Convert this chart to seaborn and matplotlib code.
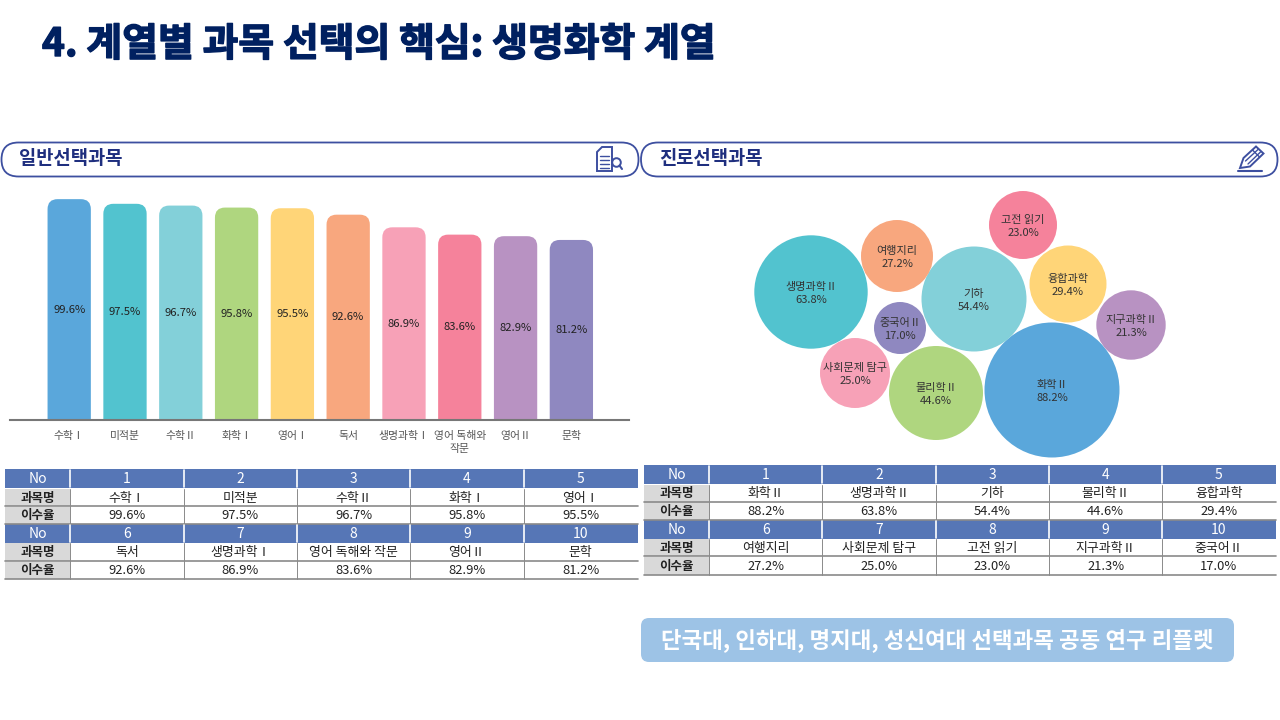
import matplotlib.pyplot as plt
import matplotlib.patheffects as pe
from matplotlib.patches import Circle, FancyBboxPatch, Polygon, Rectangle
import pandas as pd
import seaborn as sns

# Values
general_subjects = ['수학Ⅰ', '미적분', '수학Ⅱ', '화학Ⅰ', '영어Ⅰ', '독서', '생명과학Ⅰ', '영어 독해와 작문', '영어Ⅱ', '문학']
general_ticks = ['수학Ⅰ', '미적분', '수학Ⅱ', '화학Ⅰ', '영어Ⅰ', '독서', '생명과학Ⅰ', '영어 독해와\n작문', '영어Ⅱ', '문학']
general_rates = [99.6, 97.5, 96.7, 95.8, 95.5, 92.6, 86.9, 83.6, 82.9, 81.2]

career_subjects = ['화학Ⅱ', '생명과학Ⅱ', '기하', '물리학Ⅱ', '융합과학', '여행지리', '사회문제 탐구', '고전 읽기', '지구과학Ⅱ', '중국어Ⅱ']
career_rates = [88.2, 63.8, 54.4, 44.6, 29.4, 27.2, 25.0, 23.0, 21.3, 17.0]

# Bubble layout, in pixels of the slide
bubble_x = [1052, 811, 974, 936, 1068, 897, 855, 1023, 1131, 900]
bubble_y = [390, 292, 299, 393, 284, 256, 373, 225, 325, 328]
bubble_r = [67.5, 56.7, 52.5, 47, 38.5, 36, 35, 34, 34.7, 26]

colors = ['#5AA7DB', '#52C3CF', '#83D0D9', '#AFD67F', '#FFD578',
          '#F8A77E', '#F7A1B7', '#F5829B', '#B892C2', '#8F88C0']
navy = '#002060'
pill_color = '#3D4FA0'
header_color = '#5676B6'

sns.set_theme(style='white')
plt.rcParams['font.family'] = ['Noto Sans CJK KR', 'DejaVu Sans']

fig = plt.figure(figsize=(12.8, 7.2), dpi=100)

# Full slide axes in pixels for title, pills, tables and icons
page = fig.add_axes([0, 0, 1, 1])
page.set_xlim(0, 1280)
page.set_ylim(720, 0)
page.axis('off')

page.text(42, 44.5, '4. 계열별 과목 선택의 핵심: 생명화학 계열', fontsize=28, fontweight='bold',
          color=navy, va='center', ha='left',
          path_effects=[pe.withStroke(linewidth=1.0, foreground=navy)])


def draw_pill(x0, x1, title):
    page.add_patch(FancyBboxPatch((x0 + 17, 142.5 + 17), x1 - x0 - 34, 0,
                                  boxstyle='round,pad=17,rounding_size=17',
                                  fc='white', ec=pill_color, lw=1.3))
    page.text(x0 + 18, 159, title, fontsize=13.5, fontweight='bold', color='#1F2F7F',
              va='center', ha='left')


def draw_table(x_edges, y_edges, subjects, rates):
    # y_edges: top and bottom of the six rows
    for block in range(2):
        start = block * 5
        rows = y_edges[block * 3:block * 3 + 3]
        top, bottom = rows[0]
        page.add_patch(Rectangle((x_edges[0], top), x_edges[-1] - x_edges[0], bottom - top,
                                 fc=header_color, ec='none'))
        page.text((x_edges[0] + x_edges[1]) / 2, (top + bottom) / 2 + 0.5, 'No', color='white',
                  fontsize=10, ha='center', va='center')
        for row, label in zip(rows[1:], ['과목명', '이수율']):
            page.add_patch(Rectangle((x_edges[0], row[0]), x_edges[1] - x_edges[0], row[1] - row[0],
                                     fc='#D9D9D9', ec='none'))
            page.text((x_edges[0] + x_edges[1]) / 2, (row[0] + row[1]) / 2 + 0.5, label, color='#222222',
                      fontsize=9, fontweight='bold', ha='center', va='center')
            page.plot([x_edges[0], x_edges[-1]], [row[1], row[1]], color='#8A8A8A', lw=1.2)
        for i in range(5):
            xc = (x_edges[i + 1] + x_edges[i + 2]) / 2
            page.text(xc, (top + bottom) / 2 + 0.5, str(start + i + 1), color='white', fontsize=10,
                      ha='center', va='center')
            page.text(xc, sum(rows[1]) / 2 + 0.5, subjects[start + i], color='#222222', fontsize=9.3,
                      ha='center', va='center')
            page.text(xc, sum(rows[2]) / 2 + 0.5, f'{rates[start + i]:.1f}%', color='#222222', fontsize=9.3,
                      ha='center', va='center')
            edge = x_edges[i + 1]
            page.plot([edge, edge], [top + 1, bottom - 1], color='white', lw=1.2)
            page.plot([edge, edge], [rows[1][0], rows[2][1]], color='#8A8A8A', lw=0.7)


draw_pill(1.5, 638.5, '일반선택과목')
draw_pill(641, 1277.5, '진로선택과목')

# Document icon with folded corner
page.add_patch(Polygon([(602, 147), (612, 147), (612, 171), (597, 171), (597, 152)], closed=True,
                       fc='white', ec=pill_color, lw=1.4))
for y_line in [156, 160, 164, 168]:
    page.plot([600, 609], [y_line, y_line], color=pill_color, lw=1.0)
page.add_patch(Circle((616.5, 162.5), 4.3, fc='white', ec=pill_color, lw=1.4))
page.plot([619.5, 622], [165.5, 169], color=pill_color, lw=1.5)

# Pencil icon
page.add_patch(Polygon([(1240, 168), (1243.5, 158), (1256, 146.5), (1263.5, 153.5), (1250, 166.5)], closed=True,
                       fc='white', ec=pill_color, lw=1.4))
page.plot([1245.5, 1258], [161, 149.5], color=pill_color, lw=1)
page.plot([1248, 1260.5], [164, 152], color=pill_color, lw=1)
page.plot([1252.5, 1259.5], [150, 157], color=pill_color, lw=1)
page.plot([1238, 1262], [171, 171], color=pill_color, lw=1.5)

draw_table([5, 70.2, 183.7, 296.7, 410.2, 523.7, 637.6],
           [(469.3, 488.3), (489.3, 506), (506.7, 523.6), (524.3, 542.7), (543.3, 561), (561.7, 578.5)],
           general_subjects, general_rates)
draw_table([644, 709.4, 822.4, 936, 1049, 1162.4, 1275.5],
           [(465.3, 484), (485, 501.7), (502.3, 519.6), (520.3, 538.7), (539.3, 556.3), (557, 575)],
           career_subjects, career_rates)

# Footer label
page.add_patch(FancyBboxPatch((649, 626), 577, 28, boxstyle='round,pad=8,rounding_size=8',
                              fc='#9DC3E6', ec='none'))
page.text(937.5, 640.5, '단국대, 인하대, 명지대, 성신여대 선택과목 공동 연구 리플렛', color='white',
          fontsize=16.1, fontweight='bold', ha='center', va='center')

# Bar chart, left panel
bar_ax = fig.add_axes([10 / 1280, 300 / 720, 619.4 / 1280, 255 / 720])
bar_ax.patch.set_alpha(0)
general_df = pd.DataFrame({'subject': general_ticks, 'rate': general_rates})
sns.barplot(data=general_df, x='subject', y='rate', hue='subject', palette=colors, width=0.776,
            saturation=1, legend=False, ax=bar_ax)
bar_ax.set_xlim(-1.061, 10.04)
bar_ax.set_ylim(0, 115)
bar_ax.set_xlabel('')
bar_ax.set_ylabel('')
bar_ax.set_yticks([])
bar_ax.tick_params(axis='x', length=0, labelsize=7.8, labelcolor='#555555', pad=8)
for tick_label in bar_ax.get_xticklabels():
    tick_label.set_linespacing(1.35)
sns.despine(ax=bar_ax, left=True)
bar_ax.spines['bottom'].set_color('#777777')
bar_ax.spines['bottom'].set_linewidth(1.5)

# Swap the square bars for ones with rounded tops, the axes clip the bottom corners
round_x = 10 / 55.8
for container in bar_ax.containers:
    labels = bar_ax.bar_label(container, fmt='%.1f%%', label_type='center', fontsize=8.1, color='#222222',
                              fontweight='medium')
    for bar in container:
        bar_ax.add_patch(FancyBboxPatch((bar.get_x(), -10), bar.get_width(), bar.get_height() + 10,
                                        boxstyle=f'round,pad=0,rounding_size={round_x}',
                                        mutation_aspect=25.2, fc=bar.get_facecolor(), ec='none', zorder=1.5))
        bar.set_visible(False)

# Bubble chart, right panel
bubble_ax = fig.add_axes([640 / 1280, 258 / 720, 640 / 1280, 282 / 720])
bubble_ax.patch.set_alpha(0)
career_df = pd.DataFrame({'subject': career_subjects, 'rate': career_rates, 'x': bubble_x, 'y': bubble_y})
size_map = {rate: (1.44 * r) ** 2 for rate, r in zip(career_rates, bubble_r)}
sns.scatterplot(data=career_df, x='x', y='y', hue='subject', palette=colors, size='rate', sizes=size_map,
                linewidth=0, alpha=1, legend=False, clip_on=False, ax=bubble_ax)
bubble_ax.set_xlim(640, 1280)
bubble_ax.set_ylim(462, 180)
bubble_ax.axis('off')
for name, rate, x, y in zip(career_subjects, career_rates, bubble_x, bubble_y):
    bubble_ax.text(x, y + 1.5, f'{name}\n{rate:.1f}%', fontsize=8, color='#333333', ha='center', va='center',
                   linespacing=1.35)

fig.savefig('out.png', dpi=100)
